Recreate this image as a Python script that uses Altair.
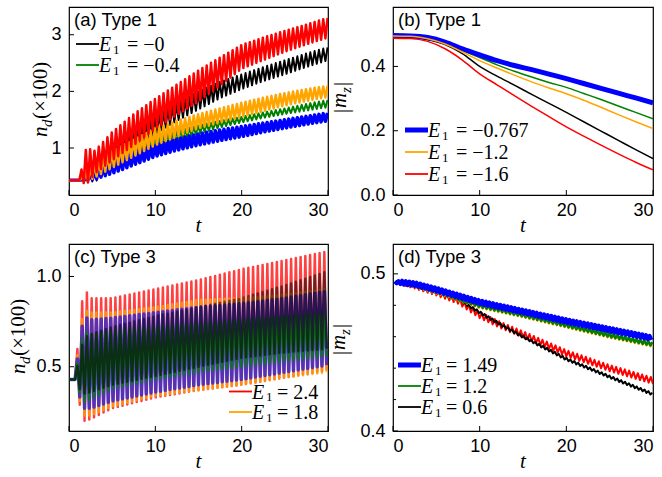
import altair as alt
import numpy as np
import pandas as pd

# ---------------- values ----------------
# Panel (a): n_d(x100), Type 1. Upper/lower envelopes of the fast oscillation.
A_T = [1.2, 2, 3, 5, 7.5, 10, 12.5, 15, 17.5, 20, 22.5, 25, 27.5, 30]
A_BASE = 0.43
A_PERIOD = 0.5
A_BLACK_HI = [0.43, 0.43, 0.75, 1.00, 1.30, 1.55, 1.78, 2.00, 2.17, 2.30, 2.43, 2.55, 2.67, 2.78]
A_BLACK_LO = [0.43, 0.43, 0.40, 0.65, 0.95, 1.25, 1.48, 1.68, 1.88, 2.04, 2.18, 2.30, 2.43, 2.55]
A_GREEN_HI = [0.43, 0.45, 0.60, 0.80, 1.00, 1.20, 1.30, 1.40, 1.48, 1.55, 1.63, 1.70, 1.78, 1.85]
A_GREEN_LO = [0.43, 0.43, 0.45, 0.60, 0.80, 0.98, 1.12, 1.25, 1.36, 1.45, 1.53, 1.60, 1.66, 1.72]
A_BLUE_HI = [0.43, 0.50, 0.60, 0.80, 0.93, 1.05, 1.16, 1.25, 1.32, 1.38, 1.44, 1.50, 1.56, 1.62]
A_BLUE_LO = [0.43, 0.43, 0.45, 0.55, 0.70, 0.85, 0.96, 1.05, 1.13, 1.20, 1.28, 1.35, 1.42, 1.48]
A_ORANGE_HI = [0.43, 0.60, 0.75, 0.95, 1.15, 1.35, 1.48, 1.60, 1.70, 1.80, 1.89, 1.97, 2.04, 2.10]
A_ORANGE_LO = [0.43, 0.40, 0.48, 0.65, 0.85, 1.05, 1.20, 1.35, 1.45, 1.55, 1.65, 1.75, 1.83, 1.90]
A_RED_HI = [0.45, 1.00, 0.95, 1.28, 1.60, 1.87, 2.12, 2.37, 2.60, 2.82, 2.95, 3.07, 3.18, 3.30]
A_RED_LO = [0.43, 0.35, 0.55, 0.78, 1.05, 1.34, 1.58, 1.82, 2.10, 2.40, 2.55, 2.70, 2.83, 2.95]

# Panel (b): |m_z|, Type 1 (smooth curves)
B_T = [0, 2, 4, 6, 8, 10, 12, 14, 16, 18, 20, 22, 24, 26, 28, 30]
B_BLACK = [0.490, 0.490, 0.483, 0.468, 0.440, 0.400, 0.370, 0.342, 0.313, 0.285, 0.257, 0.228, 0.199, 0.170, 0.141, 0.113]
B_GREEN = [0.495, 0.494, 0.487, 0.472, 0.450, 0.428, 0.405, 0.385, 0.367, 0.350, 0.335, 0.316, 0.297, 0.277, 0.257, 0.237]
B_BLUE = [0.496, 0.495, 0.490, 0.476, 0.455, 0.436, 0.418, 0.403, 0.390, 0.376, 0.362, 0.347, 0.332, 0.317, 0.302, 0.287]
B_ORANGE = [0.495, 0.494, 0.486, 0.470, 0.445, 0.418, 0.395, 0.373, 0.352, 0.333, 0.315, 0.295, 0.273, 0.250, 0.228, 0.207]
B_RED = [0.488, 0.487, 0.478, 0.455, 0.420, 0.377, 0.343, 0.309, 0.276, 0.244, 0.212, 0.183, 0.155, 0.128, 0.102, 0.078]

# Panel (c): n_d(x100), Type 3. Envelopes of the oscillation.
C_T = [0.7, 1.2, 1.7, 2.5, 5, 10, 15, 20, 25, 30]
C_BASE = 0.43
C_PERIOD = 0.55
C_RED_HI = [0.45, 0.72, 0.94, 0.88, 0.88, 0.93, 0.98, 1.04, 1.09, 1.14]
C_RED_LO = [0.41, 0.30, 0.20, 0.21, 0.27, 0.33, 0.37, 0.40, 0.44, 0.48]
C_ORANGE_HI = [0.45, 0.66, 0.82, 0.80, 0.80, 0.83, 0.87, 0.88, 0.90, 0.93]
C_ORANGE_LO = [0.41, 0.32, 0.23, 0.23, 0.28, 0.34, 0.37, 0.40, 0.44, 0.47]
C_BLUE_HI = [0.45, 0.62, 0.78, 0.76, 0.77, 0.80, 0.83, 0.85, 0.88, 0.92]
C_BLUE_LO = [0.41, 0.34, 0.27, 0.27, 0.31, 0.36, 0.40, 0.43, 0.47, 0.51]
C_GREEN_HI = [0.45, 0.58, 0.70, 0.68, 0.70, 0.72, 0.74, 0.76, 0.78, 0.80]
C_GREEN_LO = [0.42, 0.36, 0.30, 0.32, 0.38, 0.43, 0.47, 0.50, 0.53, 0.56]
C_BLACK_HI = [0.45, 0.55, 0.66, 0.68, 0.72, 0.78, 0.83, 0.88, 0.95, 1.03]
C_BLACK_LO = [0.42, 0.38, 0.35, 0.36, 0.40, 0.45, 0.50, 0.55, 0.58, 0.60]

# Panel (d): |m_z|, Type 3. Envelopes of the small oscillation.
D_T = [0, 1, 2.5, 5, 7.5, 10, 12.5, 15, 20, 25, 30]
D_BLUE_HI = [0.4950, 0.4957, 0.4947, 0.4912, 0.4872, 0.4832, 0.4802, 0.4772, 0.4712, 0.4657, 0.4602]
D_BLUE_LO = [0.4945, 0.4933, 0.4923, 0.4888, 0.4848, 0.4808, 0.4778, 0.4748, 0.4688, 0.4633, 0.4578]
D_GREEN_HI = [0.4950, 0.4957, 0.4944, 0.4902, 0.4857, 0.4812, 0.4782, 0.4752, 0.4687, 0.4622, 0.4565]
D_GREEN_LO = [0.4945, 0.4933, 0.4920, 0.4878, 0.4833, 0.4788, 0.4758, 0.4728, 0.4663, 0.4598, 0.4541]
D_ORANGE_HI = [0.4950, 0.4953, 0.4940, 0.4898, 0.4853, 0.4808, 0.4778, 0.4748, 0.4683, 0.4618, 0.4561]
D_ORANGE_LO = [0.4945, 0.4929, 0.4916, 0.4874, 0.4829, 0.4784, 0.4754, 0.4724, 0.4659, 0.4594, 0.4537]
D_RED_HI = [0.4950, 0.4950, 0.4937, 0.4898, 0.4850, 0.4758, 0.4692, 0.4635, 0.4515, 0.4420, 0.4340]
D_RED_LO = [0.4945, 0.4930, 0.4907, 0.4862, 0.4810, 0.4718, 0.4652, 0.4595, 0.4475, 0.4380, 0.4300]
D_BLACK_HI = [0.4950, 0.4953, 0.4943, 0.4903, 0.4848, 0.4763, 0.4683, 0.4608, 0.4466, 0.4353, 0.4242]
D_BLACK_LO = [0.4945, 0.4937, 0.4927, 0.4887, 0.4832, 0.4747, 0.4667, 0.4592, 0.4450, 0.4337, 0.4226]

X_TICKS = [0, 10, 20, 30]
A_YTICKS = [1, 2, 3]
B_YTICKS = [0.0, 0.2, 0.4]
C_YTICKS = [0.5, 1.0]
D_YTICKS = [0.4, 0.5]
D_YMINOR = [0.42, 0.44, 0.46, 0.48]

LEG_A = [("black", "−0"), ("green", "−0.4")]
LEG_B = [("blue", "−0.767"), ("orange", "−1.2"), ("red", "−1.6")]
LEG_C = [("red", "2.4"), ("orange", "1.8")]
LEG_D = [("blue", "1.49"), ("green", "1.2"), ("black", "0.6")]

# ---------------- helpers ----------------
SANS = "Liberation Sans"
SERIF = "Liberation Serif"
COL = {"black": "#000000", "green": "#008000", "blue": "#0000ff",
       "orange": "#ffa500", "red": "#ff0000"}


def zigzag(t_env, hi, lo, period, base=None):
    t0 = t_env[0]
    ts, vs = [], []
    if base is not None:
        ts += [0.0, t0]
        vs += [base, base]
    half = period / 2.0
    k = 1
    t = t0 + half
    while t <= 30.0 + 1e-9:
        env = hi if k % 2 == 1 else lo
        ts.append(t)
        vs.append(float(np.interp(t, t_env, env)))
        k += 1
        t = t0 + k * half
    return pd.DataFrame({"t": ts, "v": vs})


def one():
    return alt.Data(values=[{"k": 0}])


def enc_xy(ydom, yvals, yfmt):
    x = alt.X("t:Q", scale=alt.Scale(domain=[0, 30], nice=False, zero=False),
              axis=alt.Axis(values=X_TICKS, format="d", title=None, ticks=False,
                            domain=False, grid=False, labelPadding=6))
    y = alt.Y("v:Q", scale=alt.Scale(domain=ydom, nice=False, zero=False),
              axis=alt.Axis(values=yvals, format=yfmt, title=None, ticks=False,
                            domain=False, grid=False, labelPadding=8))
    return x, y


def line(df, color, width, x, y, opacity=1.0, interp="linear"):
    return alt.Chart(df).mark_line(color=COL[color], strokeWidth=width, opacity=opacity,
                                   clip=True, strokeJoin="round", interpolate=interp).encode(
        x=x, y=y)


def text(s, x, y, size, font, style="normal", angle=0):
    return alt.Chart(one()).mark_text(text=s, fontSize=size, font=font, fontStyle=style,
                                      align="left", baseline="alphabetic", angle=angle,
                                      color="black").encode(x=alt.value(x), y=alt.value(y))


def anchor(x, y):
    # white 1px mark that pins the outer edge of the layout
    return alt.Chart(one()).mark_rule(color="white", strokeWidth=1).encode(
        x=alt.value(x), x2=alt.value(x + 1), y=alt.value(y))


def ticks(x, y, yvals, H, minor=None):
    layers = []
    layers.append(alt.Chart(pd.DataFrame({"t": X_TICKS})).mark_rule(color="black", strokeWidth=1)
                  .encode(x=x, y=alt.value(H), y2=alt.value(H - 5)))
    layers.append(alt.Chart(pd.DataFrame({"v": yvals})).mark_rule(color="black", strokeWidth=1)
                  .encode(y=y, x=alt.value(0), x2=alt.value(5)))
    if minor:
        layers.append(alt.Chart(pd.DataFrame({"v": minor})).mark_rule(color="black", strokeWidth=1)
                      .encode(y=y, x=alt.value(0), x2=alt.value(3)))
    return layers


def legend(entries, x, y0, dy, widths, eq_dx):
    layers = []
    for i, (c, val) in enumerate(entries):
        yy = y0 + i * dy
        layers.append(alt.Chart(one()).mark_rule(color=COL[c], strokeWidth=widths.get(c, 1.8))
                      .encode(x=alt.value(x), x2=alt.value(x + 23), y=alt.value(yy)))
        tx = x + 23
        layers.append(text("E", tx, yy + 7, 20, SERIF, "italic"))
        layers.append(text("1", tx + 14, yy + 9.5, 13, SERIF))
        layers.append(text("= " + val, tx + eq_dx, yy + 7, 20, SERIF))
    return layers


def ytitle_nd(xb, ybottom):
    return [text("n", xb, ybottom, 21, SERIF, "italic", 270),
            text("d", xb + 5, ybottom - 10, 15, SERIF, "italic", 270),
            text("(×100)", xb, ybottom - 18, 21, SERIF, "normal", 270)]


def ytitle_mz(xb, ybottom):
    return [text("|", xb + 2, ybottom, 21, SERIF, "normal", 270),
            text("m", xb, ybottom - 5, 21, SERIF, "italic", 270),
            text("z", xb + 5, ybottom - 20, 15, SERIF, "italic", 270),
            text("|", xb + 2, ybottom - 27, 21, SERIF, "normal", 270)]


def panel(lines, label, W, H, x, y, yvals, minor, extra):
    layers = list(lines) + ticks(x, y, yvals, H, minor)
    layers.append(text(label, 5, 19, 18.5, SANS))
    layers.append(text("t", W / 2 - 3, H + 37, 21, SERIF, "italic"))
    layers += extra
    return alt.layer(*layers).properties(width=W, height=H)


# ---------------- panel (a) ----------------
WA, HA = 259, 188
xa, ya = enc_xy([0.17, 3.49], A_YTICKS, "d")
a_lines = [
    line(zigzag(A_T, A_BLACK_HI, A_BLACK_LO, A_PERIOD, A_BASE), "black", 2.0, xa, ya),
    line(zigzag(A_T, A_GREEN_HI, A_GREEN_LO, A_PERIOD, A_BASE), "green", 2.0, xa, ya),
    line(zigzag(A_T, A_BLUE_HI, A_BLUE_LO, A_PERIOD, A_BASE), "blue", 3.5, xa, ya),
    line(zigzag(A_T, A_ORANGE_HI, A_ORANGE_LO, A_PERIOD, A_BASE), "orange", 2.5, xa, ya),
    line(zigzag(A_T, A_RED_HI, A_RED_LO, A_PERIOD, A_BASE), "red", 2.5, xa, ya),
]
pa = panel(a_lines, "(a) Type 1", WA, HA, xa, ya, A_YTICKS, None,
           legend(LEG_A, 7, 37, 21, {}, 28) + ytitle_nd(-22, 130) + [anchor(-67, -5)])

# ---------------- panel (b) ----------------
WB, HB = 260, 188
xb, yb = enc_xy([0, 0.585], B_YTICKS, ".1f")
b_lines = []
for arr, c, w in [(B_BLACK, "black", 1.5), (B_GREEN, "green", 1.5), (B_BLUE, "blue", 5),
                  (B_ORANGE, "orange", 1.5), (B_RED, "red", 1.5)]:
    b_lines.append(line(pd.DataFrame({"t": B_T, "v": arr}), c, w, xb, yb, interp="monotone"))
pb = panel(b_lines, "(b) Type 1", WB, HB, xb, yb, B_YTICKS, None,
           legend(LEG_B, 12, 123, 22, {"blue": 5}, 28) + ytitle_mz(-47, 106) + [anchor(20, -5)])

# ---------------- panel (c) ----------------
WC, HC = 259, 187
xc, yc = enc_xy([0.144, 1.18], C_YTICKS, ".1f")
c_lines = [
    line(zigzag(C_T, C_RED_HI, C_RED_LO, C_PERIOD, C_BASE), "red", 2.5, xc, yc, 0.75),
    line(zigzag(C_T, C_ORANGE_HI, C_ORANGE_LO, C_PERIOD, C_BASE), "orange", 2.5, xc, yc, 0.75),
    line(zigzag(C_T, C_BLUE_HI, C_BLUE_LO, C_PERIOD, C_BASE), "blue", 3.5, xc, yc, 0.65),
    line(zigzag(C_T, C_GREEN_HI, C_GREEN_LO, C_PERIOD, C_BASE), "green", 2.5, xc, yc, 0.75),
    line(zigzag(C_T, C_BLACK_HI, C_BLACK_LO, C_PERIOD, C_BASE), "black", 2.5, xc, yc, 0.55),
]
pc = panel(c_lines, "(c) Type 3", WC, HC, xc, yc, C_YTICKS, None,
           legend(LEG_C, 160, 147.5, 20.5, {}, 25) + ytitle_nd(-44, 130) + [anchor(-67, 50)])

# ---------------- panel (d) ----------------
WD, HD = 260, 187
xd, yd = enc_xy([0.4, 0.519], D_YTICKS, ".1f")
d_lines = [
    line(zigzag(D_T, D_RED_HI, D_RED_LO, 0.5), "red", 2.0, xd, yd),
    line(zigzag(D_T, D_BLACK_HI, D_BLACK_LO, 0.45), "black", 2.0, xd, yd),
    line(zigzag(D_T, D_ORANGE_HI, D_ORANGE_LO, 0.45), "orange", 2.5, xd, yd),
    line(zigzag(D_T, D_GREEN_HI, D_GREEN_LO, 0.45), "green", 2.5, xd, yd),
    line(zigzag(D_T, D_BLUE_HI, D_BLUE_LO, 0.42), "blue", 4.0, xd, yd),
]
pdd = panel(d_lines, "(d) Type 3", WD, HD, xd, yd, D_YTICKS, D_YMINOR,
            legend(LEG_D, 5, 121, 21, {"blue": 5}, 25) + ytitle_mz(-48, 111))

chart = alt.concat(pa, pb, pc, pdd, columns=2, spacing={"row": 49, "column": 65},
                   bounds="flush").properties(
    padding={"left": 0, "top": 0, "right": 0, "bottom": 0},
    background="white",
).configure_view(stroke="black", strokeWidth=1.2).configure_axis(
    labelFont=SANS, labelFontSize=18, labelColor="black"
)

chart.save("out.html", embed_options={"renderer": "svg", "actions": False})
